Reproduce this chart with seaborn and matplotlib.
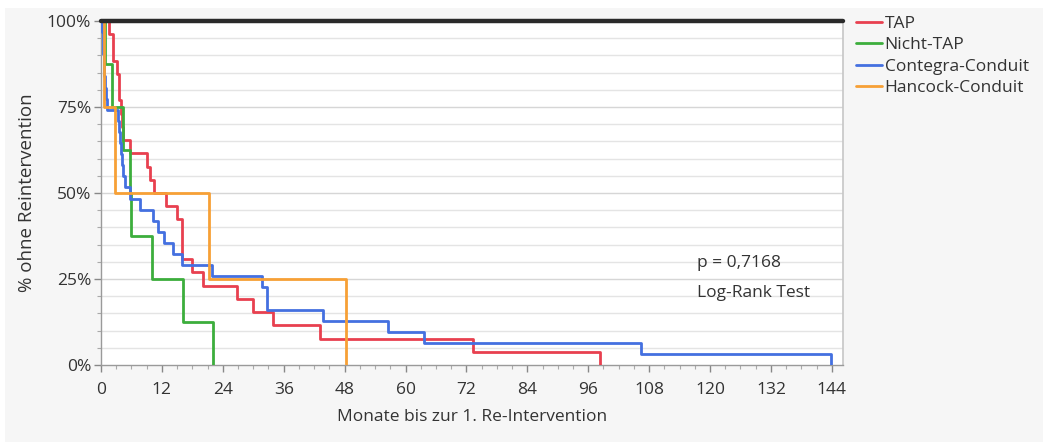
import numpy as np
import pandas as pd
import seaborn as sns
import matplotlib
matplotlib.use("Agg")
import matplotlib.pyplot as plt
from matplotlib.patches import Rectangle
from matplotlib.ticker import MultipleLocator, FuncFormatter

# Months at which the first re-intervention occurred, per group
groups = ["TAP", "Nicht-TAP", "Contegra-Conduit", "Hancock-Conduit"]
tap_months = [1.5, 2.4, 2.4, 3.1, 3.5, 3.5, 3.9, 4.2, 4.3, 5.7, 9.1, 9.7, 10.5,
              12.9, 14.9, 15.9, 15.9, 15.9, 17.9, 20.1, 26.8, 30.0, 33.9, 43.2,
              73.3, 98.3]
nicht_tap_months = [0.8, 2.2, 4.4, 5.7, 6.0, 10.0, 16.2, 22.0]
contegra_months = [0.2, 0.3, 0.4, 0.5, 0.6, 0.8, 1.0, 1.2, 3.3, 3.5, 3.7, 3.9,
                   4.1, 4.3, 4.8, 5.7, 7.7, 10.2, 11.2, 12.4, 14.1, 15.9, 21.9,
                   31.7, 32.7, 32.7, 43.7, 56.5, 63.6, 106.4, 143.8]
hancock_months = [0.6, 2.8, 21.3, 48.3]

colors = ["#e8404f", "#3cae3c", "#4470e0", "#f7a036"]
x_ticks = list(range(0, 145, 12))
y_ticks = [0, 25, 50, 75, 100]


def km_steps(name, months):
    # Kaplan-Meier estimate for an uncensored group
    months = sorted(months)
    n = len(months)
    xs = [0.0] + months
    ys = [100.0] + [100.0 * (1 - (i + 1) / n) for i in range(n)]
    return pd.DataFrame({"Monate": xs, "Survival": ys, "Gruppe": name})


df = pd.concat([
    km_steps(groups[0], tap_months),
    km_steps(groups[1], nicht_tap_months),
    km_steps(groups[2], contegra_months),
    km_steps(groups[3], hancock_months),
], ignore_index=True)

sns.set_theme(style="white")
plt.rcParams["font.family"] = ["Open Sans", "DejaVu Sans"]

W, H = 1043, 448
fig = plt.figure(figsize=(W / 100, H / 100), dpi=100, facecolor="white")
fig.patches.append(Rectangle((5 / W, 6 / H), 1 - 5 / W, 1 - 14 / H,
                             transform=fig.transFigure, facecolor="#f6f6f6",
                             edgecolor="none", zorder=-10))
ax = fig.add_axes([101 / W, 1 - 365 / H, (843 - 101) / W, (365 - 21) / H])
ax.set_facecolor("white")

# light horizontal grid every 5 %
for yv in range(5, 100, 5):
    ax.axhline(yv, color="#e4e4e4" if yv % 25 else "#d6d6d6", lw=1.0, zorder=0)

sns.lineplot(data=df, x="Monate", y="Survival", hue="Gruppe",
             hue_order=groups, palette=colors, estimator=None, sort=False,
             drawstyle="steps-post", lw=2.0, ax=ax, legend=True, zorder=3)

ax.axhline(100, color="#2a2a2a", lw=3.2, zorder=5, clip_on=False)

ax.set_xlim(0, 146.2)
ax.set_ylim(0, 100)
ax.xaxis.set_major_locator(plt.FixedLocator(x_ticks))
ax.xaxis.set_minor_locator(MultipleLocator(3))
ax.yaxis.set_major_locator(plt.FixedLocator(y_ticks))
ax.yaxis.set_minor_locator(MultipleLocator(5))
ax.yaxis.set_major_formatter(FuncFormatter(lambda v, p: f"{int(v)}%"))

ax.tick_params(axis="both", which="major", length=5, width=1, color="#888888",
               labelsize=12.5, labelcolor="#333333", direction="out", pad=2)
ax.tick_params(axis="x", which="major", pad=7)
ax.tick_params(axis="both", which="minor", length=3, width=0.8, color="#aaaaaa",
               direction="out")
ax.tick_params(axis="x", which="both", bottom=True)
ax.tick_params(axis="y", which="both", left=True)

for side in ["left", "bottom"]:
    ax.spines[side].set_color("#9a9a9a")
    ax.spines[side].set_linewidth(1.0)
ax.spines["right"].set_color("#c8c8c8")
ax.spines["top"].set_visible(False)

ax.set_xlabel("Monate bis zur 1. Re-Intervention", fontsize=12.5,
              color="#333333", labelpad=8)
ax.set_ylabel("% ohne Reintervention", fontsize=13.5, color="#333333",
              labelpad=8)

ax.text(117.4, 29.7, "p = 0,7168", fontsize=12.5, color="#333333", va="center")
ax.text(117.4, 21.0, "Log-Rank Test", fontsize=12.5, color="#333333", va="center")

leg = ax.legend(loc="upper left", bbox_to_anchor=(1.008, 1.035), frameon=False,
                fontsize=12.5, handlelength=1.5, handletextpad=0.15,
                labelspacing=0.3, borderaxespad=0)
for line in leg.get_lines():
    line.set_linewidth(2.0)
for t in leg.get_texts():
    t.set_color("#333333")

fig.savefig("out.png", dpi=100, facecolor=fig.get_facecolor())
